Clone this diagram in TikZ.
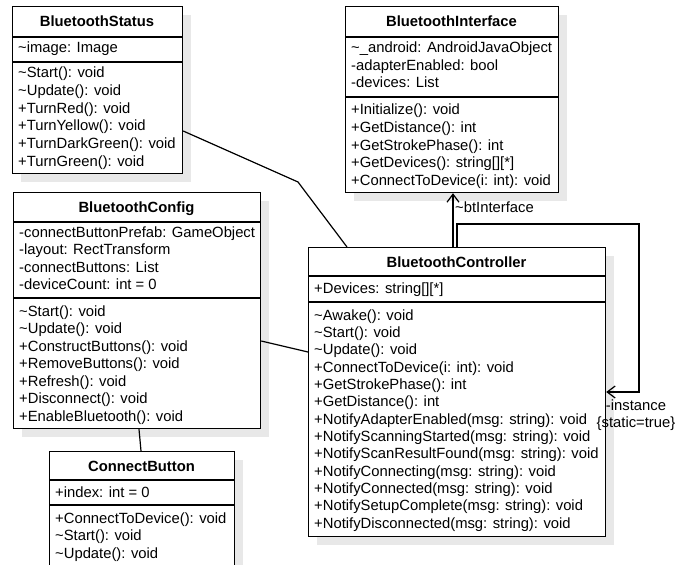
\documentclass[tikz,border=0pt]{standalone}
\usepackage{fontspec}
\setmainfont{Liberation Sans}
\usetikzlibrary{arrows.meta,shadows}
\newcommand\tld{\textasciitilde}
\begin{document}
\begin{tikzpicture}[x=1pt,y=-1pt,
  classbox/.style={draw, line width=1.2pt, fill=white, inner sep=0pt, anchor=north west,
    drop shadow={shadow xshift=8pt, shadow yshift=-8pt, fill=black!9, opacity=1}},
  sepline/.style={line width=1.2pt},
  txt/.style={anchor=base west, inner sep=0pt, font=\fontsize{14.8}{17.5}\selectfont},
  ttl/.style={anchor=base, inner sep=0pt, font=\fontsize{14.8}{17.5}\selectfont\bfseries},
  conn/.style={line width=1.2pt},
  openhead/.style={-{Straight Barb[length=8pt,width=12pt,line width=1.2pt]}},
  lbl/.style={inner sep=0pt, font=\fontsize{14.8}{17.5}\selectfont, align=center}]
\useasboundingbox (0,0) rectangle (676,564);
\clip (0,0) rectangle (676,564);

% ---------- BluetoothStatus ----------
\node[classbox, minimum width=170pt, minimum height=167pt] (status) at (12,6) {};
\draw[sepline] (status.west |- 0,37) -- (status.east |- 0,37);
\draw[sepline] (status.west |- 0,62) -- (status.east |- 0,62);
\node[ttl] (status-t) at (97,27) {BluetoothStatus};
\node[txt] (status-a0) at (18,53) {\tld image: Image};
\foreach \t [count=\i from 0] in {\tld Start(): void, \tld Update(): void, +TurnRed(): void,
    +TurnYellow(): void, +TurnDarkGreen(): void, +TurnGreen(): void}
  \node[txt] (status-m\i) at (18,78+17.6*\i) {\t};

% ---------- BluetoothInterface ----------
\node[classbox, minimum width=213pt, minimum height=186pt] (iface) at (345,6) {};
\draw[sepline] (iface.west |- 0,37) -- (iface.east |- 0,37);
\draw[sepline] (iface.west |- 0,97) -- (iface.east |- 0,97);
\node[ttl] (iface-t) at (451.5,27) {BluetoothInterface};
\foreach \t [count=\i from 0] in {\tld\_android: AndroidJavaObject, -adapterEnabled: bool, -devices: List}
  \node[txt] (iface-a\i) at (351,53+17.5*\i) {\t};
\foreach \t [count=\i from 0] in {+Initialize(): void, +GetDistance(): int, +GetStrokePhase(): int,
    +GetDevices(): string[][*], +ConnectToDevice(i: int): void}
  \node[txt] (iface-m\i) at (351,115+17.5*\i) {\t};

% ---------- BluetoothConfig ----------
\node[classbox, minimum width=247pt, minimum height=236pt] (config) at (13,192) {};
\draw[sepline] (config.west |- 0,222) -- (config.east |- 0,222);
\draw[sepline] (config.west |- 0,298) -- (config.east |- 0,298);
\node[ttl] (config-t) at (136.5,212) {BluetoothConfig};
\foreach \t [count=\i from 0] in {-connectButtonPrefab: GameObject, -layout: RectTransform,
    -connectButtons: List, -deviceCount: int = 0}
  \node[txt] (config-a\i) at (19,237+17.5*\i) {\t};
\foreach \t [count=\i from 0] in {\tld Start(): void, \tld Update(): void, +ConstructButtons(): void,
    +RemoveButtons(): void, +Refresh(): void, +Disconnect(): void, +EnableBluetooth(): void}
  \node[txt] (config-m\i) at (19,316+17.5*\i) {\t};

% ---------- ConnectButton ----------
\node[classbox, minimum width=185pt, minimum height=140pt] (cbutton) at (49,451) {};
\draw[sepline] (cbutton.west |- 0,480) -- (cbutton.east |- 0,480);
\draw[sepline] (cbutton.west |- 0,505) -- (cbutton.east |- 0,505);
\node[ttl] (cbutton-t) at (141.5,471) {ConnectButton};
\node[txt] (cbutton-a0) at (55,497) {+index: int = 0};
\foreach \t [count=\i from 0] in {+ConnectToDevice(): void, \tld Start(): void, \tld Update(): void}
  \node[txt] (cbutton-m\i) at (55,523+17.5*\i) {\t};

% ---------- BluetoothController ----------
\node[classbox, minimum width=297pt, minimum height=289pt] (ctrl) at (308,247) {};
\draw[sepline] (ctrl.west |- 0,276) -- (ctrl.east |- 0,276);
\draw[sepline] (ctrl.west |- 0,302) -- (ctrl.east |- 0,302);
\node[ttl] (ctrl-t) at (456.5,267) {BluetoothController};
\node[txt] (ctrl-a0) at (314,293) {+Devices: string[][*]};
\foreach \t [count=\i from 0] in {\tld Awake(): void, \tld Start(): void, \tld Update(): void,
    +ConnectToDevice(i: int): void, +GetStrokePhase(): int, +GetDistance(): int,
    +NotifyAdapterEnabled(msg: string): void, +NotifyScanningStarted(msg: string): void,
    +NotifyScanResultFound(msg: string): void, +NotifyConnecting(msg: string): void,
    +NotifyConnected(msg: string): void, +NotifySetupComplete(msg: string): void,
    +NotifyDisconnected(msg: string): void}
  \node[txt] (ctrl-m\i) at (314,320+17.35*\i) {\t};

% ---------- Connectors ----------
\coordinate (bend) at (298,182);
\draw[conn] (status.east |- 0,131) -- (bend) -- (ctrl.north -| 347,0);
\draw[conn] (config.east |- 0,341) -- (ctrl.west |- 0,352);
\draw[conn] (config.south -| 139,0) -- (cbutton.north -| 141,0);
\draw[conn, openhead] (ctrl.north -| 453,0) -- (iface.south -| 453,0);
\node[lbl, anchor=west] (btlbl) at (455,207) {\tld btInterface};
\coordinate (loop) at (639,224);
\draw[conn, openhead] (ctrl.north -| 457,0) |- (loop) |- (ctrl.east |- 0,392);
\node[lbl] (instlbl) at (636,415) {-instance\\\{static=true\}};
\end{tikzpicture}
\end{document}
